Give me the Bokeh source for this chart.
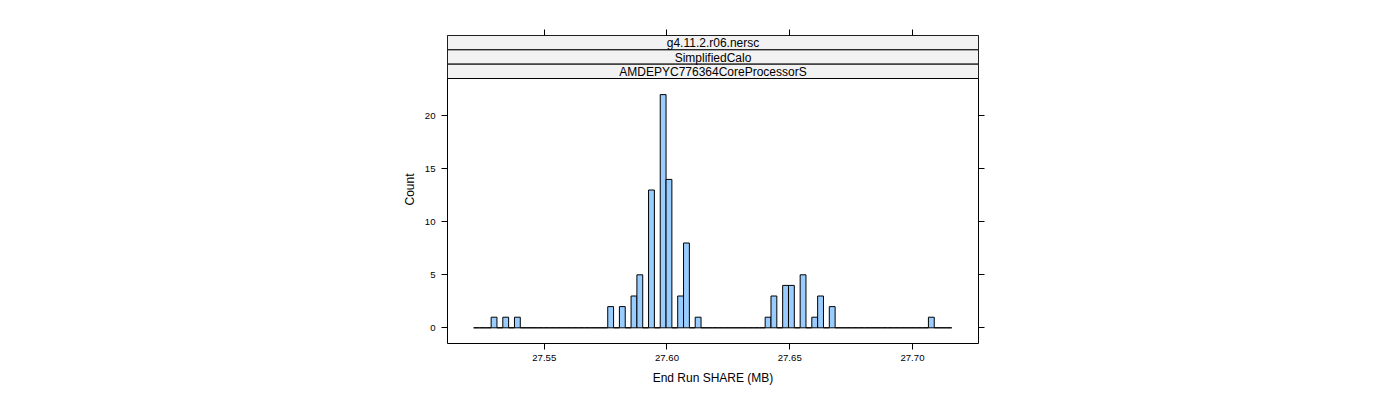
from bokeh.plotting import figure
from bokeh.models import Range1d, LinearAxis, FixedTicker, ColumnDataSource
from bokeh.core.properties import value
from bokeh.embed import file_html
from bokeh.resources import INLINE

# ---------------- data ----------------
strip_labels = ["g4.11.2.r06.nersc", "SimplifiedCalo", "AMDEPYC776364CoreProcessorS"]
x_label = "End Run SHARE (MB)"
y_label = "Count"
x_ticks = [27.55, 27.60, 27.65, 27.70]
x_tick_labels = ["27.55", "27.60", "27.65", "27.70"]
y_ticks = [0, 5, 10, 15, 20]
y_tick_labels = ["0", "5", "10", "15", "20"]

break_start = 27.52125
bin_width = 0.002375
counts = [0, 0, 0, 1, 0, 1, 0, 1, 0, 0,
          0, 0, 0, 0, 0, 0, 0, 0, 0, 0,
          0, 0, 0, 2, 0, 2, 0, 3, 5, 0,
          13, 0, 22, 14, 0, 3, 8, 0, 1, 0,
          0, 0, 0, 0, 0, 0, 0, 0, 0, 0,
          1, 3, 0, 4, 4, 0, 5, 0, 1, 3,
          0, 2, 0, 0, 0, 0, 0, 0, 0, 0,
          0, 0, 0, 0, 0, 0, 0, 0, 1, 0,
          0, 0]

# ---------------- layout ----------------
x_lim = (27.5106, 27.7269)
y_lim = (-1.48, 27.577)   # panel + strip area above it
FONT = "Liberation Sans"

lefts = [break_start + i * bin_width for i in range(len(counts))]
rights = [l + bin_width for l in lefts]
src = ColumnDataSource(dict(left=lefts, right=rights,
                            bottom=[0] * len(counts), top=counts))

p = figure(width=1400, height=400, output_backend="svg", toolbar_location=None,
           x_range=Range1d(*x_lim), y_range=Range1d(*y_lim),
           x_axis_location=None, y_axis_location=None,
           min_border_left=447, min_border_right=422,
           min_border_top=35, min_border_bottom=57)
p.grid.visible = False
p.outline_line_color = "black"
p.outline_line_width = 1
p.background_fill_color = "white"
p.border_fill_color = "white"

# pixel-like range for strips (top of frame = 35, bottom = 343)
p.extra_y_ranges = {"strip": Range1d(start=343, end=35)}

p.quad(left="left", right="right", bottom="bottom", top="top", source=src,
       fill_color="#99CCFF", line_color="black", line_width=1)

# strips
strip_edges = [35, 49.33, 63.67, 78]
xc = (x_lim[0] + x_lim[1]) / 2
p.quad(left=[x_lim[0]] * 3, right=[x_lim[1]] * 3,
       top=strip_edges[:3], bottom=strip_edges[1:],
       y_range_name="strip", fill_color="#F2F2F2", line_color="black", line_width=1)
p.text(x=[xc] * 3, y=[(strip_edges[i] + strip_edges[i + 1]) / 2 + 0.5 for i in range(3)],
       text=strip_labels, y_range_name="strip",
       text_align="center", text_baseline="middle",
       text_font=value(FONT), text_font_size="12px", text_color="black")


def style(ax, labels):
    ax.axis_line_color = None
    ax.major_tick_line_color = "black"
    ax.major_tick_in = 0
    ax.major_tick_out = 6
    ax.minor_tick_line_color = None
    ax.major_label_text_font = FONT
    ax.major_label_text_font_size = "9.6px"
    if labels:
        ax.major_label_text_color = "black"
    else:
        ax.major_label_text_color = None
    ax.axis_label_text_font = FONT
    ax.axis_label_text_font_style = "normal"
    ax.axis_label_text_font_size = "12px"
    ax.axis_label_text_color = "black"


bx = LinearAxis(ticker=FixedTicker(ticks=x_ticks), axis_label=x_label,
                major_label_overrides=dict(zip(x_ticks, x_tick_labels)))
style(bx, True)
bx.major_label_standoff = 5
bx.axis_label_standoff = 7
p.add_layout(bx, "below")

tx = LinearAxis(ticker=FixedTicker(ticks=x_ticks))
style(tx, False)
p.add_layout(tx, "above")

ly = LinearAxis(ticker=FixedTicker(ticks=y_ticks), axis_label=y_label,
                major_label_overrides=dict(zip(y_ticks, y_tick_labels)))
style(ly, True)
ly.major_label_standoff = 6
ly.axis_label_standoff = 5
ly.major_label_orientation = "horizontal"
p.add_layout(ly, "left")

ry = LinearAxis(ticker=FixedTicker(ticks=y_ticks))
style(ry, False)
p.add_layout(ry, "right")

open("out.html", "w").write(file_html(p, INLINE))
